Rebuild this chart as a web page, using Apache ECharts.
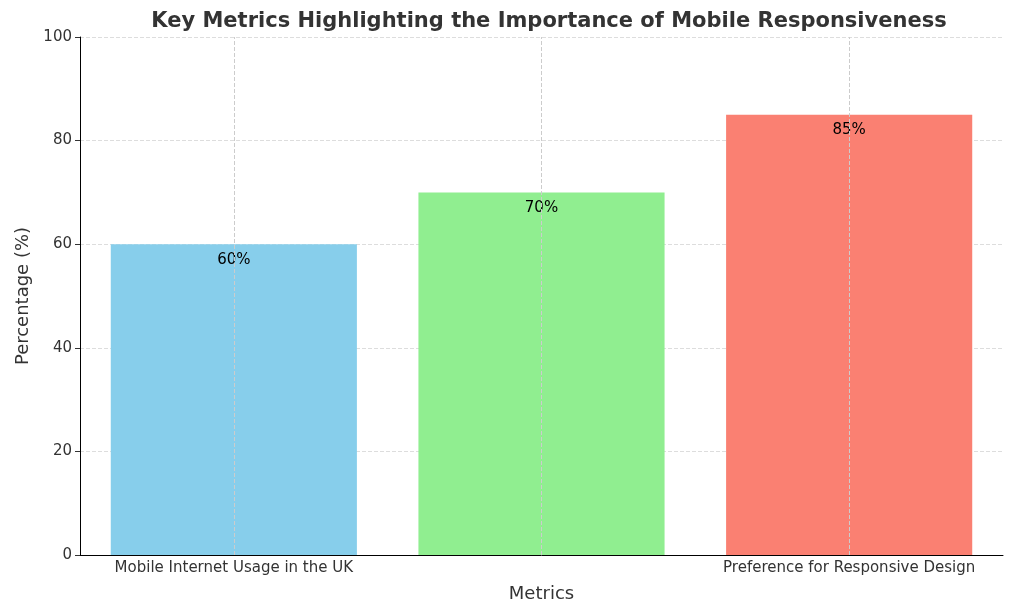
<!DOCTYPE html>
<html><head><meta charset="utf-8">
<script src="https://cdn.jsdelivr.net/npm/echarts@6/dist/echarts.min.js"></script>
<style>html,body{margin:0;padding:0;background:#fff}#c{width:1024px;height:613px}</style>
</head><body><div id="c"></div>
<script>
const categories = ['Mobile Internet Usage in the UK', 'Time Spent on Mobile Apps', 'Preference for Responsive Design'];
const values = [60, 70, 85];
const colors = ['#87ceeb', '#90ee90', '#fa8072'];
const F = 'DejaVu Sans';
const chart = echarts.init(document.getElementById('c'));
chart.setOption({
  animation: false,
  title: { text: 'Key Metrics Highlighting the Importance of Mobile Responsiveness', left: 544, top: 6, textAlign: 'center',
    textStyle: { fontFamily: F, fontSize: 21, fontWeight: 'bold', color: '#333' } },
  grid: { left: 80, right: 21, top: 37, bottom: 58 },
  xAxis: { type: 'category', data: categories, name: 'Metrics', nameLocation: 'middle', nameGap: 30,
    nameTextStyle: { fontFamily: F, fontSize: 18, color: '#333' },
    axisLine: { lineStyle: { color: '#000' } }, axisTick: { alignWithLabel: true, lineStyle: { color: '#333' } },
    axisLabel: { fontFamily: F, fontSize: 15, color: '#333', margin: 6 } },
  yAxis: { type: 'value', min: 0, max: 100, interval: 20, name: 'Percentage (%)', nameLocation: 'middle', nameGap: 48,
    nameTextStyle: { fontFamily: F, fontSize: 18, color: '#333' },
    axisLine: { show: true, lineStyle: { color: '#000' } }, axisTick: { show: true, lineStyle: { color: '#333' } },
    axisLabel: { fontFamily: F, fontSize: 15, color: '#333' },
    splitLine: { lineStyle: { type: 'dashed', color: '#ddd' } } },
  series: [{
    type: 'bar', barWidth: '80%',
    data: values.map((v, i) => ({ value: v, itemStyle: { color: colors[i] } })),
    label: { show: true, position: 'insideTop', distance: 8, formatter: '{c}%', fontFamily: F, fontSize: 15, color: '#000' },
    markLine: { silent: true, symbol: 'none', label: { show: false },
      lineStyle: { type: 'dashed', color: '#ccc', width: 1 },
      data: categories.map(c => ({ xAxis: c })) },
    z: 1
  }]
});
</script></body></html>
